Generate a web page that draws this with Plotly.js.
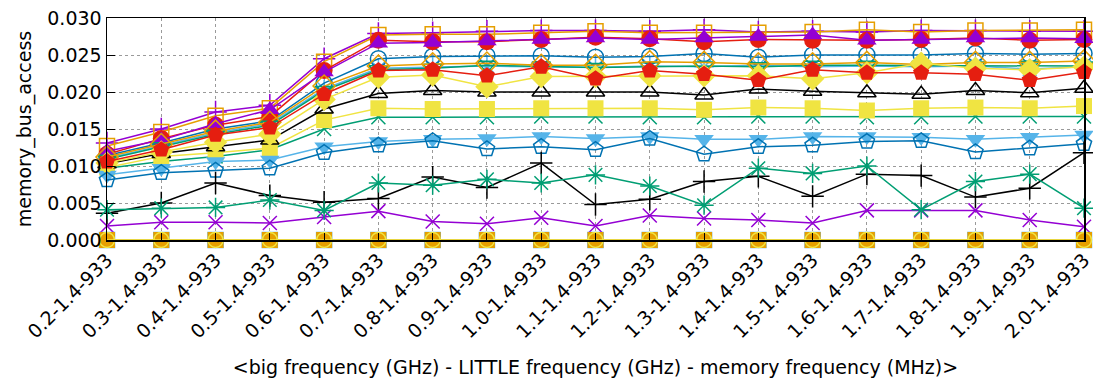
<!DOCTYPE html>
<html>
<head>
<meta charset="utf-8">
<script src="https://cdn.plot.ly/plotly-3.0.1.min.js"></script>
<style>html,body{margin:0;padding:0;background:#fff;}#chart{width:1093px;height:382px;}</style>
</head>
<body>
<div id="chart"></div>
<script>
// ---- data ----
const categories = ['0.2-1.4-933','0.3-1.4-933','0.4-1.4-933','0.5-1.4-933','0.6-1.4-933','0.7-1.4-933','0.8-1.4-933','0.9-1.4-933','1.0-1.4-933','1.1-1.4-933','1.2-1.4-933','1.3-1.4-933','1.4-1.4-933','1.5-1.4-933','1.6-1.4-933','1.7-1.4-933','1.8-1.4-933','1.9-1.4-933','2.0-1.4-933'];
const yTicks = [0, 0.005, 0.010, 0.015, 0.020, 0.025, 0.030];

const s01 = [0.0131,0.0150,0.0173,0.0182,0.0245,0.0279,0.0280,0.0282,0.0283,0.0283,0.0282,0.0284,0.0281,0.0282,0.0281,0.0283,0.0283,0.0282,0.0282];
const s02 = [0.0097,0.0106,0.0113,0.0122,0.0150,0.0166,0.0166,0.0166,0.0167,0.0167,0.0166,0.0166,0.0167,0.0167,0.0166,0.0166,0.0167,0.0167,0.0167];
const s03 = [0.0110,0.0127,0.0145,0.0157,0.0204,0.0232,0.0234,0.0235,0.0234,0.0233,0.0235,0.0234,0.0236,0.0234,0.0235,0.0234,0.0235,0.0231,0.0234];
const s04 = [0.0127,0.0146,0.0168,0.0178,0.0241,0.0277,0.0278,0.0278,0.0280,0.0282,0.0280,0.0280,0.0280,0.0281,0.0284,0.0281,0.0283,0.0283,0.0284];
const s05 = [0.0098,0.0113,0.0118,0.0124,0.0162,0.0178,0.0177,0.0177,0.0178,0.0178,0.0178,0.0176,0.0179,0.0178,0.0175,0.0178,0.0179,0.0178,0.0181];
const s06 = [0.0114,0.0131,0.0150,0.0161,0.0212,0.0245,0.0248,0.0249,0.0249,0.0247,0.0248,0.0252,0.0247,0.0250,0.0250,0.0250,0.0252,0.0251,0.0252];
const s07 = [0.0116,0.0137,0.0155,0.0167,0.0229,0.0270,0.0268,0.0268,0.0271,0.0274,0.0272,0.0268,0.0271,0.0270,0.0270,0.0271,0.0273,0.0270,0.0271];
const s08 = [0.0103,0.0117,0.0126,0.0135,0.0177,0.0198,0.0202,0.0200,0.0200,0.0200,0.0200,0.0196,0.0204,0.0201,0.0199,0.0197,0.0202,0.0199,0.0205];
const s09 = [0.0120,0.0135,0.0157,0.0176,0.0227,0.0266,0.0267,0.0269,0.0271,0.0273,0.0271,0.0273,0.0275,0.0277,0.0270,0.0271,0.0273,0.0273,0.0272];
const s10 = [0.0109,0.0126,0.0143,0.0155,0.0202,0.0230,0.0232,0.0236,0.0235,0.0233,0.0234,0.0235,0.0234,0.0236,0.0236,0.0236,0.0235,0.0236,0.0235];
const s11 = [0.0088,0.0097,0.0106,0.0108,0.0126,0.0133,0.0136,0.0137,0.0140,0.0137,0.0140,0.0136,0.0136,0.0140,0.0140,0.0139,0.0136,0.0139,0.0142];
const s12 = [0.0112,0.0129,0.0147,0.0159,0.0208,0.0235,0.0238,0.0239,0.0236,0.0236,0.0241,0.0240,0.0238,0.0238,0.0240,0.0237,0.0240,0.0240,0.0242];
const s13 = [0.0104,0.0119,0.0132,0.0143,0.0190,0.0220,0.0223,0.0207,0.0221,0.0221,0.0222,0.0222,0.0222,0.0218,0.0226,0.0239,0.0232,0.0230,0.0234];
const s14 = [0.0081,0.0091,0.0094,0.0097,0.0118,0.0128,0.0134,0.0123,0.0126,0.0122,0.0137,0.0116,0.0126,0.0128,0.0133,0.0134,0.0119,0.0124,0.0130];
const s15 = [0.0106,0.0122,0.0142,0.0152,0.0197,0.0229,0.0230,0.0222,0.0234,0.0218,0.0229,0.0224,0.0216,0.0230,0.0226,0.0226,0.0224,0.0216,0.0227];
const s16 = [0.0036,0.0050,0.0077,0.0060,0.0051,0.0056,0.0085,0.0071,0.0104,0.0048,0.0055,0.0079,0.0086,0.0059,0.0089,0.0087,0.0058,0.0070,0.0118];
const s17 = [0.0019,0.0024,0.0024,0.0023,0.0031,0.0039,0.0025,0.0022,0.0030,0.0019,0.0033,0.0029,0.0027,0.0023,0.0040,0.0040,0.0040,0.0027,0.0018];
const s18 = [0.0041,0.0043,0.0044,0.0054,0.0040,0.0077,0.0074,0.0082,0.0077,0.0088,0.0073,0.0047,0.0097,0.0090,0.0100,0.0041,0.0079,0.0089,0.0043];
const s19 = [0,0,0,0,0,0,0,0,0,0,0,0,0,0,0,0,0,0,0];
const s20 = [0,0,0,0,0,0,0,0,0,0,0,0,0,0,0,0,0,0,0];
const s21 = [0,0,0,0,0,0,0,0,0,0,0,0,0,0,0,0,0,0,0];

// ---- styles (gnuplot default line types) ----
const C = {purple:'#9400d3', green:'#009e73', lblue:'#56b4e9', orange:'#e69f00', yellow:'#f0e442', blue:'#0072b2', red:'#e51e10', black:'#000000'};
const styles = [
  [s01, C.purple, 'cross-thin-open', 16],
  [s02, C.green,  'x-thin-open', 14],
  [s03, C.lblue,  'asterisk-open', 16],
  [s04, C.orange, 'square-open', 15],
  [s05, C.yellow, 'square', 16],
  [s06, C.blue,   'circle-open', 16],
  [s07, C.red,    'circle', 17],
  [s08, C.black,  'triangle-up-open', 16],
  [s09, C.purple, 'triangle-up', 17],
  [s10, C.green,  'triangle-down-open', 16],
  [s11, C.lblue,  'triangle-down', 17],
  [s12, C.orange, 'diamond-open', 17],
  [s13, C.yellow, 'diamond', 18],
  [s14, C.blue,   'pentagon-open', 16],
  [s15, C.red,    'pentagon', 17],
  [s16, C.black,  'cross-thin-open', 16],
  [s17, C.purple, 'x-thin-open', 14],
  [s18, C.green,  'asterisk-open', 16],
  [s19, C.lblue,  'square-open', 15],
  [s20, C.orange, 'square', 16],
  [s21, C.yellow, 'circle-open', 15]
];

const traces = styles.map(([ys, col, sym, sz]) => {
  const open = sym.indexOf('open') >= 0;
  return {
    type: 'scatter', mode: 'lines+markers', x: categories, y: ys,
    cliponaxis: false, showlegend: false, hoverinfo: 'skip',
    line: {color: col, width: 1.5},
    marker: {symbol: sym, size: sz, color: col,
             line: {color: col, width: open ? 1.5 : 0}}
  };
});

const font = {family: 'DejaVu Sans, Liberation Sans, Arial, sans-serif', size: 19, color: '#000'};
const layout = {
  width: 1093, height: 382,
  margin: {l: 107, r: 9, t: 18, b: 142},
  paper_bgcolor: '#fff', plot_bgcolor: '#fff',
  font: font,
  showlegend: false,
  xaxis: {
    type: 'category', range: [0, categories.length - 1],
    tickangle: -45, tickfont: font,
    showgrid: true, gridcolor: '#9a9a9a', griddash: 'dot', gridwidth: 1,
    showline: true, linecolor: '#000', linewidth: 1.5, mirror: true,
    ticks: 'inside', ticklen: 7, tickcolor: '#000', tickwidth: 1,
    zeroline: false, automargin: false,
    title: {text: '<big frequency (GHz) - LITTLE frequency (GHz) - memory frequency (MHz)>', font: font, standoff: 19}
  },
  yaxis: {
    range: [0, 0.03], tickvals: yTicks, tickformat: '.3f', tickfont: font,
    showgrid: true, gridcolor: '#9a9a9a', griddash: 'dot', gridwidth: 1,
    showline: true, linecolor: '#000', linewidth: 1.5, mirror: true,
    ticks: 'inside', ticklen: 8, tickcolor: '#000', tickwidth: 1,
    zeroline: false, automargin: false,
    title: {text: 'memory_bus_access', font: font, standoff: 10}
  }
};

Plotly.newPlot('chart', traces, layout, {staticPlot: true, displayModeBar: false});
</script>
</body>
</html>
